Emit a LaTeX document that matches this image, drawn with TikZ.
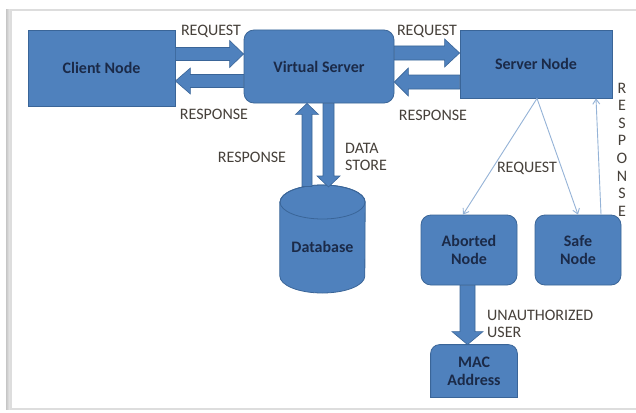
\documentclass[tikz,border=0pt]{standalone}
\usepackage{fontspec}
\setmainfont{Carlito}
\usetikzlibrary{calc,arrows.meta,backgrounds}
\definecolor{boxblue}{HTML}{4F81BD}
\definecolor{boxline}{HTML}{3A6598}
\definecolor{navy}{HTML}{1B2A48}
\definecolor{lbl}{HTML}{46403A}
\definecolor{thinblue}{HTML}{95B3D7}
\definecolor{framegray}{HTML}{DDDDDD}

\tikzset{
 box/.style={fill=boxblue, draw=boxline, line width=0.8pt, text=navy,
   font=\fontsize{16}{18}\selectfont\bfseries, align=center, inner sep=0pt},
 rbox/.style={box, rounded corners=10pt},
 lab/.style={text=lbl, font=\fontsize{16}{17}\selectfont, inner sep=0pt},
 barrow/.style={fill=boxblue, draw=boxline, line width=0.6pt, line join=miter},
 thinarrow/.style={draw=thinblue, line width=0.9pt, -{Straight Barb[length=5pt,width=7pt]}},
}

% #1 start, #2 tip, #3 half body width, #4 half head width, #5 head length
\newcommand\blockarrow[5]{%
 \coordinate (bah) at ($(#2)!#5!(#1)$);
 \path[barrow] ($(#1)!#3!90:(#2)$) -- ($(bah)!#3!-90:(#1)$) -- ($(bah)!#4!-90:(#1)$)
   -- (#2) -- ($(bah)!#4!90:(#1)$) -- ($(bah)!#3!90:(#1)$) -- ($(#1)!#3!-90:(#2)$) -- cycle;}

\begin{document}
\begin{tikzpicture}[x=1pt,y=-1pt]
\useasboundingbox (0,0) rectangle (636,412);
\begin{scope}[on background layer]
\fill[white] (0,0) rectangle (636,412);
\shade[left color=gray!45, right color=white] (6,10) rectangle (12,409);
\draw[framegray, line width=1.2pt] (640,10) -- (11,10) -- (11,409) -- (640,409);
\end{scope}

% nodes
\node[box, minimum width=147pt, minimum height=76pt] (client) at (101.5,68) {Client Node};
\node[rbox, minimum width=150pt, minimum height=73pt] (vs) at (319,66.5) {Virtual Server};
\node[box, minimum width=152pt, minimum height=68pt] (server) at (536,64) {Server Node};
\node[rbox, minimum width=96pt, minimum height=70pt] (abort) at (469,250) {Aborted\\Node};
\node[rbox, minimum width=86pt, minimum height=70pt] (safe) at (578,250) {Safe\\Node};
\node[box, draw=none, fill=none, minimum width=86pt, minimum height=52pt] (mac) at (474,371) {MAC\\Address};
\begin{scope}[on background layer]
 \path[fill=boxblue, draw=boxline, line width=0.8pt]
   (mac.south west) [rounded corners=9pt] -- (mac.north west) -- (mac.north east) [sharp corners] -- (mac.south east) -- cycle;
\end{scope}

% database cylinder
\node[minimum width=85pt, minimum height=108pt, inner sep=0pt] (db) at (322.5,239) {};
\path[fill=boxblue, draw=boxline, line width=0.8pt]
  (db.west |- 0,202) -- (db.west |- 0,276)
  arc[start angle=180, end angle=360, x radius=42.5pt, y radius=17pt]
  -- (db.east |- 0,202)
  arc[start angle=0, end angle=180, x radius=42.5pt, y radius=17pt] -- cycle;
\draw[boxline, line width=0.8pt] (db.center |- 0,202) ellipse[x radius=42.5pt, y radius=17pt];
\node[text=navy, font=\fontsize{16}{18}\selectfont\bfseries, inner sep=0pt] (dbtext) at (322.5,247) {Database};

% block arrows
\coordinate (r1s) at (client.east |- 0,54);
\coordinate (r1e) at (vs.west |- 0,54);
\blockarrow{r1s}{r1e}{6.5pt}{13.5pt}{14pt}
\coordinate (p1s) at (vs.west |- 0,81);
\coordinate (p1e) at (client.east |- 0,81);
\blockarrow{p1s}{p1e}{6.5pt}{13pt}{15pt}
\coordinate (r2s) at (vs.east |- 0,53);
\coordinate (r2e) at (server.west |- 0,53);
\blockarrow{r2s}{r2e}{7pt}{14pt}{15pt}
\coordinate (p2s) at (server.west |- 0,82);
\coordinate (p2e) at (vs.east |- 0,82);
\blockarrow{p2s}{p2e}{7pt}{14pt}{14pt}
\coordinate (ups) at (307,186.5);
\coordinate (upe) at (307,0 |- vs.south);
\blockarrow{ups}{upe}{5pt}{11.5pt}{11pt}
\coordinate (dns) at (328.5,0 |- vs.south);
\coordinate (dne) at (328.5,187);
\blockarrow{dns}{dne}{5.5pt}{11.5pt}{11pt}
\coordinate (mcs) at (467.5,0 |- abort.south);
\coordinate (mce) at (467.5,0 |- mac.north);
\blockarrow{mcs}{mce}{7.5pt}{15.5pt}{13pt}

% thin connectors
\draw[thinarrow] (537,0 |- server.south) -- (463,0 |- abort.north);
\draw[thinarrow] (537,0 |- server.south) -- (578,0 |- safe.north);
\draw[thinarrow] (601,0 |- safe.north) -- (596,0 |- server.south);

% labels
\node[lab] (lreq1) at (211,31) {REQUEST};
\node[lab] (lreq2) at (427,31) {REQUEST};
\node[lab] (lres1) at (214,114) {RESPONSE};
\node[lab] (lres2) at (433,115) {RESPONSE};
\node[lab] (lres3) at (252,157) {RESPONSE};
\node[lab, anchor=west, align=left] (lds) at (345,156.5) {DATA\\STORE};
\node[lab] (lreq3) at (527,168) {REQUEST};
\node[lab, anchor=west, align=left] (lun) at (487,323.5) {UNAUTHORIZED\\USER};
\node[lab, align=center, font=\fontsize{16}{17.6}\selectfont] (lres4) at (622,149.5) {R\\E\\S\\P\\O\\N\\S\\E};
\end{tikzpicture}
\end{document}
